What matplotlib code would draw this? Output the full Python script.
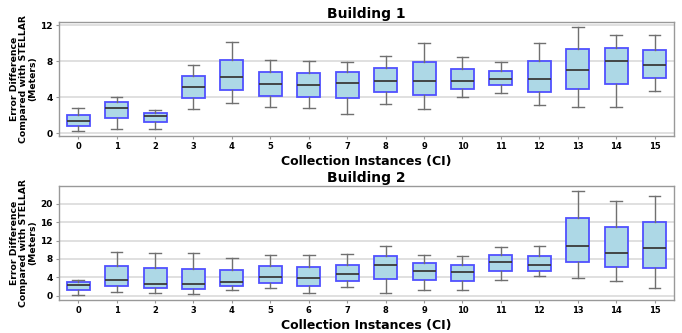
import matplotlib
matplotlib.use('Agg')
import matplotlib.pyplot as plt

# Box statistics: whisker low, Q1, median, Q3, whisker high
ci = list(range(16))

b1_low = [0.3, 0.44, 0.52, 2.66, 3.36, 2.88, 2.8, 2.18, 3.29, 2.73, 3.99, 4.54, 3.1, 2.92, 2.88, 4.69]
b1_q1 = [0.8, 1.7, 1.26, 3.91, 4.87, 4.17, 4.06, 3.91, 4.58, 4.28, 4.95, 5.32, 4.62, 4.98, 5.54, 6.13]
b1_med = [1.4, 2.84, 1.92, 5.17, 6.28, 5.47, 5.43, 5.65, 5.87, 5.8, 5.87, 6.06, 6.09, 7.09, 8.09, 7.64]
b1_q3 = [2.07, 3.47, 2.25, 6.39, 8.16, 6.83, 6.76, 6.8, 7.24, 7.9, 7.2, 6.98, 8.09, 9.42, 9.49, 9.3]
b1_high = [2.8, 4.06, 2.58, 7.64, 10.1, 8.2, 8.05, 7.98, 8.64, 10.0, 8.53, 7.9, 10.04, 11.8, 10.9, 10.93]

b2_low = [0.15, 0.8, 0.65, 0.44, 1.24, 1.6, 0.5, 1.96, 0.5, 1.24, 1.24, 3.42, 4.29, 3.93, 3.13, 1.6]
b2_q1 = [1.24, 2.1, 1.6, 1.53, 2.1, 2.84, 2.18, 3.2, 3.64, 3.35, 3.2, 5.45, 5.45, 7.35, 6.25, 6.04]
b2_med = [2.4, 3.42, 2.55, 2.55, 2.98, 4.0, 3.78, 4.65, 6.69, 5.38, 5.09, 7.35, 6.69, 10.84, 9.24, 10.47]
b2_q3 = [2.9, 6.55, 5.96, 5.82, 5.67, 6.47, 6.25, 6.76, 8.73, 7.05, 6.76, 8.87, 8.73, 16.87, 14.98, 16.07]
b2_high = [3.42, 9.6, 9.3, 9.24, 8.3, 8.8, 8.8, 9.0, 10.84, 8.8, 8.58, 10.5, 10.9, 22.76, 20.7, 21.8]

panels = [
    ('Building 1', b1_low, b1_q1, b1_med, b1_q3, b1_high, [0, 4, 8, 12]),
    ('Building 2', b2_low, b2_q1, b2_med, b2_q3, b2_high, [0, 4, 8, 12, 16, 20]),
]


def draw_panel(ax, title, low, q1, med, q3, high, yticks):
    stats = []
    for i in range(len(ci)):
        stats.append({'whislo': low[i], 'q1': q1[i], 'med': med[i],
                      'q3': q3[i], 'whishi': high[i], 'fliers': []})
    ax.bxp(stats, positions=ci, widths=0.6, patch_artist=True, showfliers=False,
           boxprops=dict(facecolor='#add8e6', edgecolor='#5050ff', linewidth=1.3),
           medianprops=dict(color='#3a3a3a', linewidth=1.3),
           whiskerprops=dict(color='#707070', linewidth=1.0),
           capprops=dict(color='#707070', linewidth=1.0),
           capwidths=0.3)
    ax.set_xlim(-0.5, 15.5)
    ax.set_xticks(ci)
    ax.set_xticklabels([str(c) for c in ci], fontsize=6, fontweight='bold')
    ax.set_yticks(yticks)
    ax.set_yticklabels([str(t) for t in yticks], fontsize=6.5, fontweight='bold')
    ax.yaxis.grid(True, color='#dddddd', linewidth=1.3)
    ax.set_axisbelow(True)
    for s in ax.spines.values():
        s.set_color('#999999')
        s.set_linewidth(1.0)
    ax.tick_params(axis='both', length=2.5, color='#999999', pad=2)
    ax.set_title(title, fontsize=10, fontweight='bold', pad=3)
    ax.set_xlabel('Collection Instances (CI)', fontsize=9, fontweight='bold', labelpad=3)
    ax.set_ylabel('Error Difference\nCompared with STELLAR\n(Meters)', fontsize=6.7,
                  fontweight='bold', linespacing=1.05, labelpad=2)


def main():
    fig = plt.figure(figsize=(6.82, 3.33), dpi=100)
    ax1 = fig.add_axes([0.0865, 0.592, 0.9015, 0.342])
    ax2 = fig.add_axes([0.0865, 0.099, 0.9015, 0.342])
    for ax, p in zip([ax1, ax2], panels):
        draw_panel(ax, *p)
    fig.savefig('out.png', dpi=100)


if __name__ == '__main__':
    main()
